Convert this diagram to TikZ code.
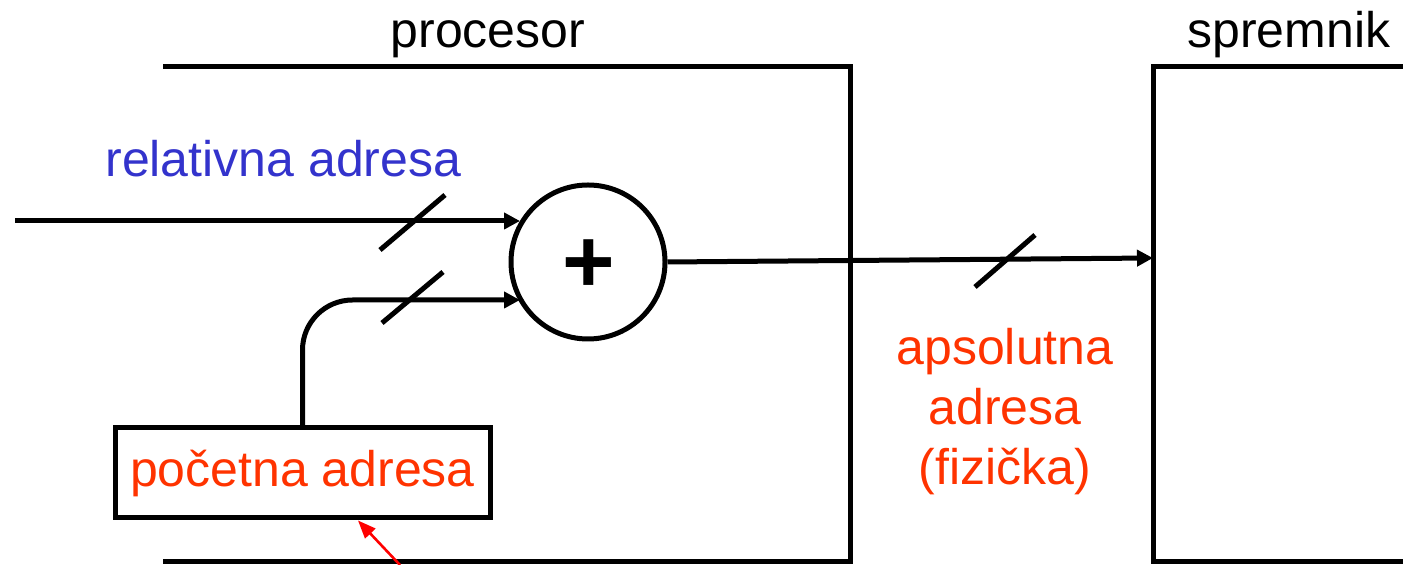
\documentclass[tikz,border=0pt]{standalone}
\usepackage{fontspec}
\setmainfont{Liberation Sans}
\usetikzlibrary{arrows.meta}
\definecolor{relblue}{HTML}{3333CC}
\definecolor{absred}{HTML}{FF3300}
\definecolor{ptrred}{HTML}{FF0000}
\begin{document}
\begin{tikzpicture}[x=0.5pt,y=-0.5pt,
  wire/.style={line width=2.5pt},
  bus/.style={wire,-{Triangle[length=8pt,width=8pt]}},
  slash/.style={line width=2.5pt},
  lbl/.style={font=\fontsize{25pt}{30pt}\selectfont,inner sep=0pt},
  summer/.style={circle,draw,line width=2.5pt,minimum size=77pt,inner sep=0pt},
  regbox/.style={draw,line width=2.5pt,minimum width=187.5pt,minimum height=45pt,
    inner sep=0pt,text=absred,font=\fontsize{25pt}{30pt}\selectfont}]
\useasboundingbox (0,0) rectangle (1403,565);

% processor frame (open on the left)
\draw[wire] (163,67) -- (850,67) -- (850,562) -- (163,562);
\node[lbl,anchor=base] (proc) at (488,48) {procesor};

% memory block, running off the right edge
\draw[wire] (1403,67) -- (1153,67) -- (1153,562) -- (1403,562);
\coordinate (memin) at (1153,258);
\node[lbl,anchor=base west] (mem) at (1187,48) {spremnik};

% adder
\node[summer] (sum) at (588,262) {};
\node[inner sep=0pt,font=\fontsize{45pt}{45pt}\selectfont\bfseries] (plus) at (589,266) {+};

% base register
\node[regbox] (base) at (302.5,473) {početna adresa};

% relative address input
\coordinate (relin) at (15,221);
\coordinate (sumin1) at (520,221);
\draw[bus] (relin) -- (sumin1);
\node[lbl,text=relblue,anchor=base west] (rel) at (105,177) {relativna adresa};
\draw[slash] (380,250) -- (445,195);

% base register output into the adder
\coordinate (sumin2) at (520,300);
\draw[bus,rounded corners=25pt] (base.north) |- (sumin2);
\draw[slash] (382,323) -- (443,272);

% physical address to memory
\draw[bus] (sum.east) -- (memin);
\draw[slash] (975,287) -- (1035,235);
\node[lbl,text=absred,align=center,anchor=north] (abs) at (1005,328)
  {\fontsize{25pt}{60pt}\selectfont apsolutna\\adresa\\(fizička)};

% pointer to the base register
\coordinate (ptr) at (400,565);
\draw[ptrred,line width=1.3pt,-{Triangle[length=9pt,width=7pt]}] (ptr) -- (base.south -| 358,0);
\end{tikzpicture}
\end{document}
